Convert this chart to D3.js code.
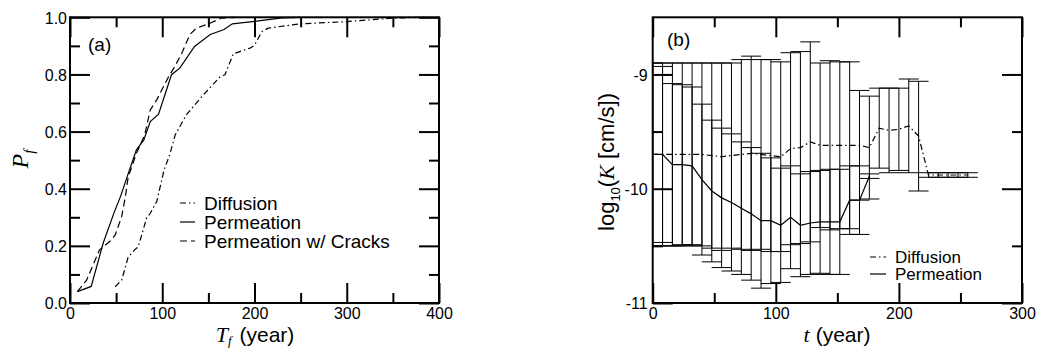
<!DOCTYPE html>
<html>
<head>
<meta charset="utf-8">
<script src="https://cdn.jsdelivr.net/npm/d3@7"></script>
<style>
  body { margin: 0; background: #fff; }
  svg { display: block; font-family: "Liberation Sans", Arial, Helvetica, sans-serif; }
</style>
</head>
<body>
<svg id="chart" width="1039" height="349"></svg>
<script>
// ---- panel (a): failure probability vs failure time ----
const diffT = [49, 56, 63, 70, 74, 83, 87, 94, 102, 108, 114, 126, 143, 163, 168, 177, 184, 195, 200, 208, 215, 249, 300, 350, 385];
const diffP = [0.057, 0.08, 0.16, 0.186, 0.197, 0.297, 0.314, 0.355, 0.466, 0.518, 0.588, 0.658, 0.723, 0.793, 0.799, 0.872, 0.88, 0.892, 0.902, 0.95, 0.962, 0.977, 0.985, 0.997, 1.0];
const permT = [8, 23, 36, 48, 55, 63, 72, 80, 87, 96, 110, 119, 135, 152, 167, 176, 200, 230, 250];
const permP = [0.04, 0.058, 0.21, 0.318, 0.375, 0.452, 0.536, 0.571, 0.635, 0.661, 0.799, 0.822, 0.898, 0.94, 0.957, 0.977, 0.986, 0.998, 1.0];
const crackT = [8, 18, 32, 43, 49, 56, 60, 63, 72, 81, 87, 94, 107, 114, 122, 130, 137, 150, 164, 180];
const crackP = [0.04, 0.08, 0.186, 0.215, 0.238, 0.302, 0.372, 0.44, 0.524, 0.588, 0.676, 0.711, 0.793, 0.83, 0.88, 0.94, 0.962, 0.977, 0.997, 1.0];

// ---- panel (b): log10 K of failed elements (mean +/- spread) ----
const permTime = [0, 8, 16, 24, 32, 40, 48, 56, 64, 72, 80, 88, 96, 104, 112, 120, 128, 136, 144, 152, 160, 168, 176];
const permMean = [-9.70, -9.70, -9.79, -9.79, -9.80, -9.92, -10.02, -10.08, -10.12, -10.17, -10.22, -10.28, -10.28, -10.32, -10.25, -10.32, -10.30, -10.29, -10.29, -10.29, -10.10, -10.10, -9.89];
const permErr = [0.80, 0.77, 0.71, 0.70, 0.69, 0.66, 0.62, 0.61, 0.60, 0.58, 0.58, 0.59, 0.55, 0.50, 0.45, 0.45, 0.45, 0.45, 0.46, 0.46, 0.30, 0.30, 0.02];
const diffTime = [0, 8, 16, 24, 32, 40, 48, 56, 64, 72, 80, 88, 96, 104, 112, 120, 128, 136, 144, 152, 160, 168, 176, 184, 192, 200, 208, 216, 224, 232, 240, 248, 256];
const diffMean = [-9.70, -9.70, -9.70, -9.70, -9.70, -9.70, -9.71, -9.72, -9.71, -9.70, -9.69, -9.70, -9.71, -9.72, -9.65, -9.64, -9.59, -9.62, -9.62, -9.62, -9.62, -9.62, -9.64, -9.47, -9.49, -9.48, -9.45, -9.54, -9.88, -9.88, -9.88, -9.88, -9.88];
const diffErr = [0.80, 0.80, 0.80, 0.80, 0.80, 0.80, 0.81, 0.82, 0.81, 0.83, 0.85, 0.83, 0.84, 0.83, 0.84, 0.84, 0.875, 0.72, 0.74, 0.73, 0.73, 0.48, 0.45, 0.35, 0.37, 0.36, 0.41, 0.48, 0.02, 0.02, 0.02, 0.02, 0.02];

const DASH_DOT = '6,3,1.5,3';
const DASHED = '7,4';
const SERIF = '"Liberation Serif", "Times New Roman", serif';

const svg = d3.select('#chart');

function axisStyle(a) {
  a.select('.domain').remove();
  a.attr('font-family', null).attr('font-size', 16);
  a.selectAll('.tick line').attr('stroke', '#000').attr('stroke-width', 2);
  a.selectAll('.tick text').attr('fill', '#000');
}

// frame with inward major/minor ticks on all four sides
function frame(x, y, o) {
  const [x0, x1] = x.range();
  const [yb, yt] = y.range();
  const g = svg.append('g');
  const add = (axis, tr) => g.append('g').attr('transform', tr).call(axis).call(axisStyle);
  add(d3.axisBottom(x).tickValues(o.xMajor).tickSize(-20).tickPadding(5).tickFormat(o.xFmt), `translate(0,${yb})`);
  add(d3.axisBottom(x).tickValues(o.xMinor).tickSize(-10).tickFormat(''), `translate(0,${yb})`);
  add(d3.axisTop(x).tickValues(o.xMajor).tickSize(-20).tickFormat(''), `translate(0,${yt})`);
  add(d3.axisTop(x).tickValues(o.xMinor).tickSize(-10).tickFormat(''), `translate(0,${yt})`);
  const yl = add(d3.axisLeft(y).tickValues(o.yMajor).tickSize(-20).tickPadding(o.yPad).tickFormat(o.yFmt), `translate(${x0},0)`);
  yl.selectAll('.tick text').attr('dy', '0.36em');
  add(d3.axisLeft(y).tickValues(o.yMinor).tickSize(-10).tickFormat(''), `translate(${x0},0)`);
  add(d3.axisRight(y).tickValues(o.yMajor).tickSize(-20).tickFormat(''), `translate(${x1},0)`);
  add(d3.axisRight(y).tickValues(o.yMinor).tickSize(-10).tickFormat(''), `translate(${x1},0)`);
  g.append('rect').attr('x', x0).attr('y', yt).attr('width', x1 - x0).attr('height', yb - yt)
    .attr('fill', 'none').attr('stroke', '#000').attr('stroke-width', 2);
}

function legend(rows, x, y, dy, size) {
  const g = svg.append('g').attr('transform', `translate(${x},${y})`);
  rows.forEach((r, i) => {
    g.append('line').attr('x1', 0).attr('x2', r.len).attr('y1', i * dy).attr('y2', i * dy)
      .attr('stroke', '#000').attr('stroke-width', 1.2).attr('stroke-dasharray', r.dash);
    g.append('text').attr('x', r.tx).attr('y', i * dy).attr('dy', '0.36em')
      .attr('font-size', size).text(r.label);
  });
}

// ================= panel (a) =================
const xA = d3.scaleLinear().domain([0, 400]).range([70, 439]);
const yA = d3.scaleLinear().domain([0, 1]).range([303, 17.3]);

const lineA = d3.line().x(d => xA(d[0])).y(d => yA(d[1]));
[
  { t: diffT, p: diffP, dash: DASH_DOT },
  { t: permT, p: permP, dash: null },
  { t: crackT, p: crackP, dash: DASHED }
].forEach(s => {
  svg.append('path').datum(d3.zip(s.t, s.p)).attr('d', lineA)
    .attr('fill', 'none').attr('stroke', '#000').attr('stroke-width', 1.2)
    .attr('stroke-dasharray', s.dash);
});

frame(xA, yA, {
  xMajor: [0, 100, 200, 300, 400], xMinor: [50, 150, 250, 350],
  yMajor: [0, 0.2, 0.4, 0.6, 0.8, 1.0], yMinor: [0.1, 0.3, 0.5, 0.7, 0.9],
  xFmt: d3.format('d'), yFmt: d3.format('.1f'), yPad: 3
});

svg.append('text').attr('x', 88).attr('y', 51).attr('font-size', 19).text('(a)');

legend([
  { label: 'Diffusion', dash: DASH_DOT, len: 15, tx: 24 },
  { label: 'Permeation', dash: null, len: 15, tx: 24 },
  { label: 'Permeation w/ Cracks', dash: DASHED, len: 15, tx: 24 }
], 180, 203, 19, 19);

// x title (a)
const tA = svg.append('text').attr('x', 255).attr('y', 342).attr('text-anchor', 'middle').attr('font-size', 21);
tA.append('tspan').attr('font-family', SERIF).attr('font-style', 'italic').attr('font-size', 22).text('T');
tA.append('tspan').attr('font-family', SERIF).attr('font-style', 'italic')
  .attr('font-size', 13).attr('dy', 3).text('f');
tA.append('tspan').attr('dy', -3).attr('dx', 8).text('(year)');

// y title (a)
const pA = svg.append('text').attr('transform', 'translate(28,159) rotate(-90)').attr('text-anchor', 'middle')
  .attr('font-family', SERIF).attr('font-style', 'italic').attr('font-size', 24);
pA.append('tspan').text('P');
pA.append('tspan').attr('font-size', 15).attr('dy', 6).text('f');

// ================= panel (b) =================
const xB = d3.scaleLinear().domain([0, 300]).range([652.7, 1022]);
const yB = d3.scaleLinear().domain([-11, -8.5]).range([303, 17.3]);

svg.append('clipPath').attr('id', 'clipB').append('rect')
  .attr('x', 652.7).attr('y', 17.3).attr('width', 1022 - 652.7).attr('height', 303 - 17.3);
const plotB = svg.append('g').attr('clip-path', 'url(#clipB)');

const CAP = 10;
function errorBars(time, mean, err) {
  const rows = d3.zip(time, mean, err);
  const g = plotB.append('g').attr('stroke', '#000').attr('stroke-width', 1).attr('fill', 'none');
  g.selectAll(null).data(rows).join('line')
    .attr('x1', d => xB(d[0])).attr('x2', d => xB(d[0]))
    .attr('y1', d => yB(d[1] - d[2])).attr('y2', d => yB(d[1] + d[2]));
  [-1, 1].forEach(sgn => {
    g.selectAll(null).data(rows).join('line')
      .attr('x1', d => xB(d[0]) - CAP).attr('x2', d => xB(d[0]) + CAP)
      .attr('y1', d => yB(d[1] + sgn * d[2])).attr('y2', d => yB(d[1] + sgn * d[2]));
  });
}
errorBars(permTime, permMean, permErr);
errorBars(diffTime, diffMean, diffErr);

const lineB = d3.line().x(d => xB(d[0])).y(d => yB(d[1]));
plotB.append('path').datum(d3.zip(diffTime, diffMean)).attr('d', lineB)
  .attr('fill', 'none').attr('stroke', '#000').attr('stroke-width', 1.2).attr('stroke-dasharray', DASH_DOT);
plotB.append('path').datum(d3.zip(permTime, permMean)).attr('d', lineB)
  .attr('fill', 'none').attr('stroke', '#000').attr('stroke-width', 1.2);

frame(xB, yB, {
  xMajor: [0, 100, 200, 300], xMinor: [50, 150, 250],
  yMajor: [-11, -10, -9], yMinor: [-10.5, -9.5],
  xFmt: d3.format('d'), yFmt: d => String(d), yPad: 5
});

svg.append('text').attr('x', 667).attr('y', 46).attr('font-size', 19).text('(b)');

legend([
  { label: 'Diffusion', dash: DASH_DOT, len: 16, tx: 25 },
  { label: 'Permeation', dash: null, len: 16, tx: 25 }
], 870, 257, 17, 17);

// x title (b)
const tB = svg.append('text').attr('x', 837).attr('y', 342).attr('text-anchor', 'middle').attr('font-size', 21);
tB.append('tspan').attr('font-family', SERIF).attr('font-style', 'italic').attr('font-size', 22).text('t');
tB.append('tspan').attr('dx', 6).text('(year)');

// y title (b)
const lB = svg.append('text').attr('transform', 'translate(614,162) rotate(-90)').attr('text-anchor', 'middle').attr('font-size', 22);
lB.append('tspan').text('log');
lB.append('tspan').attr('font-size', 13).attr('dy', 6).text('10');
lB.append('tspan').attr('dy', -6).text('(');
lB.append('tspan').attr('font-family', SERIF).attr('font-style', 'italic').text('K');
lB.append('tspan').text(' [cm/s])');
</script>
</body>
</html>
